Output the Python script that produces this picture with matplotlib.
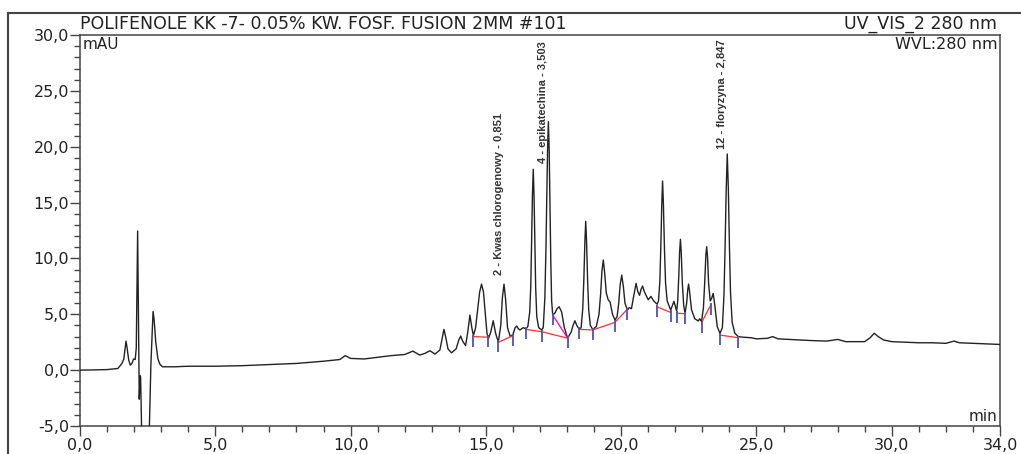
import matplotlib
matplotlib.use("Agg")
import matplotlib.pyplot as plt
from matplotlib.lines import Line2D
from matplotlib.ticker import FixedLocator, MultipleLocator, FuncFormatter

# chromatogram trace (time in min, signal in mAU)
time = [0.0, 0.5, 1.0, 1.4, 1.5, 1.56, 1.62, 1.67, 1.70, 1.74, 1.80, 1.86, 1.92, 1.98, 2.04,
        2.08, 2.11, 2.13, 2.16, 2.19, 2.22, 2.24, 2.29, 2.40, 2.50, 2.56, 2.62, 2.67, 2.70,
        2.74, 2.80, 2.88, 2.96, 3.05, 3.5, 4.0, 5.0, 6.0, 7.0, 8.0, 9.0, 9.6, 9.8, 10.0,
        10.5, 11.0, 11.5, 12.0, 12.3, 12.56, 12.75, 12.93, 13.12, 13.3, 13.38, 13.45, 13.52,
        13.6, 13.73, 13.9, 14.0, 14.07, 14.14, 14.25, 14.33, 14.41, 14.48, 14.54, 14.62,
        14.7, 14.77, 14.84, 14.91, 14.98, 15.04, 15.09, 15.18, 15.27, 15.36, 15.46, 15.55,
        15.61, 15.67, 15.73, 15.8, 15.9, 16.0, 16.08, 16.14, 16.2, 16.26, 16.32, 16.38,
        16.48, 16.55, 16.62, 16.66, 16.69, 16.72, 16.75, 16.78, 16.81, 16.84, 16.88, 16.95,
        17.06, 17.12, 17.18, 17.22, 17.25, 17.28, 17.31, 17.34, 17.37, 17.40, 17.43, 17.47,
        17.55, 17.63, 17.71, 17.8, 17.9, 18.02, 18.15, 18.22, 18.29, 18.36, 18.45, 18.52,
        18.58, 18.62, 18.66, 18.69, 18.72, 18.76, 18.80, 18.86, 18.95, 19.08, 19.18, 19.24,
        19.29, 19.34, 19.39, 19.45, 19.52, 19.59, 19.68, 19.77, 19.85, 19.91, 19.96, 20.02,
        20.08, 20.14, 20.23, 20.3, 20.38, 20.46, 20.55, 20.62, 20.68, 20.73, 20.79, 20.86,
        21.0, 21.1, 21.2, 21.33, 21.38, 21.43, 21.47, 21.50, 21.53, 21.56, 21.60, 21.64,
        21.70, 21.83, 21.95, 22.05, 22.09, 22.13, 22.16, 22.19, 22.22, 22.26, 22.31, 22.36,
        22.42, 22.46, 22.49, 22.53, 22.6, 22.72, 22.85, 22.9, 22.97, 23.04, 23.09, 23.13,
        23.16, 23.19, 23.23, 23.29, 23.34, 23.4, 23.46, 23.55, 23.65, 23.74, 23.8, 23.84,
        23.88, 23.92, 23.96, 24.0, 24.04, 24.1, 24.2, 24.33, 24.5, 24.8, 25.0, 25.4, 25.6,
        25.8, 26.2, 27.0, 27.6, 28.0, 28.3, 29.0, 29.2, 29.35, 29.5, 29.7, 30.0, 30.5, 31.0,
        31.5, 32.0, 32.3, 32.5, 33.0, 33.5, 34.0]
signal = [0.0, 0.02, 0.05, 0.15, 0.45, 0.65, 1.0, 2.0, 2.6, 2.0, 0.9, 0.45, 0.6, 1.0, 0.95,
          2.0, 8.0, 12.45, 5.0, -2.6, -0.5, -0.6, -7.0, -9.0, -8.0, -5.5, 0.5, 3.5, 5.25,
          4.5, 2.5, 1.0, 0.5, 0.3, 0.3, 0.35, 0.35, 0.4, 0.5, 0.6, 0.8, 0.95, 1.3, 1.05,
          1.0, 1.15, 1.3, 1.4, 1.7, 1.35, 1.5, 1.74, 1.44, 1.8, 2.8, 3.65, 2.9,
          1.9, 1.55, 1.9, 2.7, 3.05, 2.6, 2.2, 3.4, 4.93, 3.8, 3.1, 3.8,
          5.5, 7.0, 7.7, 7.0, 5.0, 3.3, 2.8, 3.4, 4.42, 3.3, 2.5, 4.0,
          6.5, 7.7, 6.3, 3.8, 3.0, 3.2, 3.8, 3.95, 3.7, 3.6, 3.7, 3.8,
          3.7, 3.9, 5.2, 7.6, 11.5, 15.6, 17.98, 15.6, 11.5, 7.4, 4.8, 3.8,
          3.6, 3.8, 6.5, 10.9, 15.5, 19.8, 22.24, 19.6, 14.9, 9.6, 6.2, 4.93,
          5.1, 5.5, 5.67, 5.2, 3.8, 2.87, 3.4, 4.0, 4.42, 4.0, 3.65, 3.8,
          5.5, 8.1, 11.6, 13.32, 11.6, 8.0, 5.4, 4.0, 3.65, 3.9, 5.0, 6.8,
          8.9, 9.86, 8.7, 6.9, 6.3, 6.1, 5.0, 4.48, 4.8, 6.0, 7.6, 8.5,
          7.5, 6.0, 5.38, 5.6, 5.5, 6.6, 7.77, 7.0, 6.7, 7.2, 7.53, 7.0,
          6.3, 6.6, 6.2, 5.9, 6.2, 8.0, 11.5, 14.8, 16.93, 14.9, 10.8, 7.8,
          6.2, 5.38, 6.16, 5.3, 6.2, 8.5, 10.6, 11.71, 10.5, 7.8, 5.8, 5.1,
          6.0, 7.2, 7.7, 7.0, 5.4, 4.6, 4.4, 4.6, 4.35, 5.6, 8.0, 10.3,
          11.05, 10.2, 7.8, 6.2, 6.4, 6.87, 5.8, 3.9, 3.3, 3.8, 6.8, 11.0,
          16.0, 19.35, 16.3, 11.2, 7.0, 4.3, 3.3, 3.0, 2.95, 2.9, 2.8, 2.85, 3.0,
          2.8, 2.75, 2.65, 2.6, 2.75, 2.55, 2.55, 2.9, 3.3, 3.0, 2.7, 2.55, 2.5, 2.45,
          2.45, 2.4, 2.6, 2.45, 2.4, 2.35, 2.3]

# integration baselines (red) and the one skim line (magenta)
baselines = [
    ([14.54, 15.09], [3.0, 2.95]),
    ([15.46, 15.99], [2.49, 3.08]),
    ([16.48, 17.06, 18.02], [3.65, 3.44, 2.86]),
    ([18.45, 18.95, 19.77, 20.2], [3.65, 3.6, 4.28, 5.38]),
    ([21.31, 21.83], [5.68, 5.17]),
    ([22.05, 22.36], [5.1, 5.05]),
    ([22.97, 23.31], [4.25, 5.83]),
    ([23.65, 24.33], [3.14, 2.9]),
]
skim_t = [17.47, 18.02]
skim_v = [4.93, 2.86]

# peak labels
label_text = ["2 - Kwas chlorogenowy - 0,851", "4 - epikatechina - 3,503", "12 - floryzyna - 2,847"]
label_t = [15.47, 17.12, 23.74]
label_v = [8.5, 18.5, 19.8]

x_major = [0, 5, 10, 15, 20, 25, 30, 34]

fig = plt.figure(figsize=(10.21, 4.54), dpi=100)
ax = fig.add_axes([80 / 1021, 28 / 454, 920 / 1021, 391 / 454])

ax.plot(time, signal, color="#222222", lw=1.0, zorder=3)

for bt, bv in baselines:
    ax.plot(bt, bv, color="#ff3030", lw=0.9, zorder=4)
    ax.plot(bt, [v - 0.35 for v in bv], ls="none", marker="|", markersize=8,
            markeredgewidth=1.3, color="#5050b0", zorder=5)
ax.plot(skim_t, skim_v, color="#ff00aa", lw=0.9, zorder=4)
ax.plot(skim_t[:1], [skim_v[0] - 0.35], ls="none", marker="|", markersize=8,
        markeredgewidth=1.3, color="#5050b0", zorder=5)

for txt, t, v in zip(label_text, label_t, label_v):
    ax.text(t, v, txt, rotation=90, ha="center", va="bottom", fontsize=8,
            fontweight="bold", fontfamily="Liberation Sans", color="#333333",
            clip_on=False, zorder=6)

ax.set_xlim(0, 34)
ax.set_ylim(-5, 30)

fmt = FuncFormatter(lambda v, p: f"{v:.1f}".replace(".", ","))
ax.xaxis.set_major_locator(FixedLocator(x_major))
ax.xaxis.set_minor_locator(MultipleLocator(1))
ax.yaxis.set_major_locator(MultipleLocator(5))
ax.yaxis.set_minor_locator(MultipleLocator(1))
ax.xaxis.set_major_formatter(fmt)
ax.yaxis.set_major_formatter(fmt)
ax.tick_params(which="major", length=7, width=1, color="#444444", labelsize=11.5, labelcolor="#222222")
ax.tick_params(which="minor", length=4, width=1, color="#444444")
ax.tick_params(axis="x", pad=2)
ax.tick_params(axis="y", pad=1)

for s in ax.spines.values():
    s.set_color("#444444")
    s.set_linewidth(1.1)

ax.text(0.0, 1.004, "POLIFENOLE KK -7- 0.05% KW. FOSF. FUSION 2MM #101", transform=ax.transAxes,
        ha="left", va="bottom", fontsize=12.5, color="#222222")
ax.text(0.997, 1.004, "UV_VIS_2 280 nm", transform=ax.transAxes,
        ha="right", va="bottom", fontsize=12.5, color="#222222")
ax.text(0.003, 0.995, "mAU", transform=ax.transAxes, ha="left", va="top",
        fontsize=11, color="#222222")
ax.text(0.997, 0.995, "WVL:280 nm", transform=ax.transAxes, ha="right", va="top",
        fontsize=11.5, color="#222222")
ax.text(0.997, 0.006, "min", transform=ax.transAxes, ha="right", va="bottom",
        fontsize=11, color="#222222")

# outer frame (left and top edges only are visible)
fig.add_artist(Line2D([8 / 1021, 8 / 1021], [0, 1 - 13 / 454], color="#444444", lw=1.5))
fig.add_artist(Line2D([8 / 1021, 1], [1 - 13 / 454, 1 - 13 / 454], color="#444444", lw=1.5))

fig.savefig("out.png", dpi=100)
